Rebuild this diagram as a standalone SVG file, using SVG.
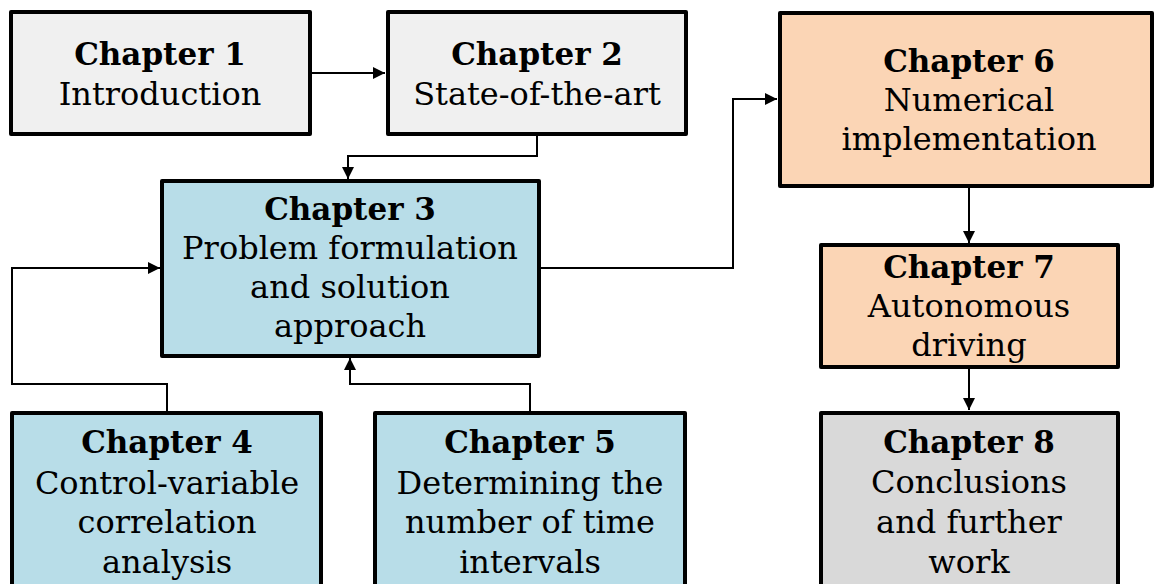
<svg xmlns="http://www.w3.org/2000/svg" width="1156" height="584" viewBox="0 0 1156 584">
<style>
.box{stroke:#000;stroke-width:4;stroke-linejoin:round}
.grey{fill:#f0f0f0}
.blue{fill:#b8dde8}
.orange{fill:#fbd5b5}
.grey2{fill:#d9d9d9}
text{font-family:"DejaVu Serif","Liberation Serif",serif;font-size:32px;fill:#000;text-anchor:middle}
.t{font-weight:bold;font-size:31px}
.conn{fill:none;stroke:#000;stroke-width:2}
</style>
<defs>
<marker id="arr" viewBox="0 0 10 10" refX="10" refY="5" markerWidth="6" markerHeight="6" orient="auto" markerUnits="strokeWidth">
<path d="M0,0 L10,5 L0,10 z" fill="#000"/>
</marker>
</defs>
<rect width="1156" height="584" fill="#fff"/>
<g id="connectors">
<path class="conn" d="M311,73 H385" marker-end="url(#arr)"/>
<path class="conn" d="M537,135 V156 H348 V179" marker-end="url(#arr)"/>
<path class="conn" d="M540,268 H733 V99 H777" marker-end="url(#arr)"/>
<path class="conn" d="M167,412 V384 H12 V268 H160" marker-end="url(#arr)"/>
<path class="conn" d="M530,412 V384 H350 V358" marker-end="url(#arr)"/>
<path class="conn" d="M969,187 V243" marker-end="url(#arr)"/>
<path class="conn" d="M969,367 V410" marker-end="url(#arr)"/>
</g>
<g id="ch1">
<rect class="box grey" x="11" y="12" width="299" height="122"/>
<text x="160" y="65" class="t">Chapter 1</text>
<text x="160" y="105">Introduction</text>
</g>
<g id="ch2">
<rect class="box grey" x="388" y="12" width="298" height="122"/>
<text x="537" y="65" class="t">Chapter 2</text>
<text x="537" y="105">State-of-the-art</text>
</g>
<g id="ch3">
<rect class="box blue" x="162" y="181" width="377" height="175"/>
<text x="350" y="220" class="t">Chapter 3</text>
<text x="350" y="259">Problem formulation</text>
<text x="350" y="298">and solution</text>
<text x="350" y="337">approach</text>
</g>
<g id="ch4">
<rect class="box blue" x="12" y="413" width="309" height="180"/>
<text x="167" y="453" class="t">Chapter 4</text>
<text x="167" y="494">Control-variable</text>
<text x="167" y="533">correlation</text>
<text x="167" y="573">analysis</text>
</g>
<g id="ch5">
<rect class="box blue" x="375" y="413" width="310" height="180"/>
<text x="530" y="453" class="t">Chapter 5</text>
<text x="530" y="494">Determining the</text>
<text x="530" y="533">number of time</text>
<text x="530" y="573">intervals</text>
</g>
<g id="ch6">
<rect class="box orange" x="780" y="13" width="372" height="173"/>
<text x="969" y="72" class="t">Chapter 6</text>
<text x="969" y="111">Numerical</text>
<text x="969" y="150">implementation</text>
</g>
<g id="ch7">
<rect class="box orange" x="821" y="245" width="297" height="122"/>
<text x="969" y="278" class="t">Chapter 7</text>
<text x="969" y="317">Autonomous</text>
<text x="969" y="356">driving</text>
</g>
<g id="ch8">
<rect class="box grey2" x="821" y="413" width="297" height="180"/>
<text x="969" y="453" class="t">Chapter 8</text>
<text x="969" y="493">Conclusions</text>
<text x="969" y="533">and further</text>
<text x="969" y="573">work</text>
</g>
</svg>
